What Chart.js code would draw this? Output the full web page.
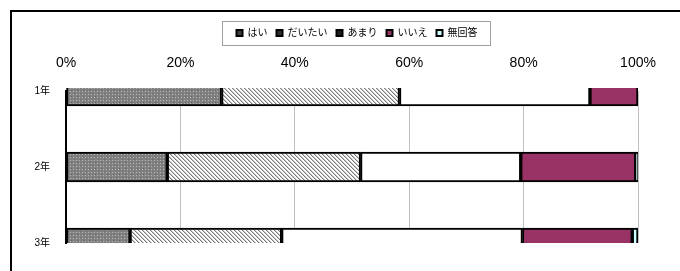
<!DOCTYPE html>
<html>
<head>
<meta charset="utf-8">
<script src="https://cdn.jsdelivr.net/npm/chart.js@4"></script>
<style>
  html, body { margin: 0; padding: 0; background: #fff; overflow: hidden; }
  #wrap { width: 680px; height: 271px; position: relative; }
</style>
</head>
<body>
<div id="wrap"><canvas id="surveyChart" width="680" height="271"></canvas></div>
<script>
// categories and answers (percent of students)
const grades = ['1年', '2年', '3年'];
const answerLabels = ['はい', 'だいたい', 'あまり', 'いいえ', '無回答'];
const hai      = [27.2, 17.7, 11.2];
const daitai   = [31.1, 33.8, 26.5];
const amari    = [33.3, 28.0, 42.1];
const iie      = [8.4, 20.1, 19.2];
const mukaitou = [0, 0.4, 1.0];
const xTicks = [0, 20, 40, 60, 80, 100];

const FONT = "'Liberation Sans', 'Noto Sans CJK JP', sans-serif";
const PAD_TOP = 19;
const PLOT_TOP = 91;     // where the first category sits

// little fill patterns like the old spreadsheet ones
function makePattern(size, draw) {
    const c = document.createElement('canvas');
    c.width = size; c.height = size;
    const g = c.getContext('2d');
    draw(g);
    return document.getElementById('surveyChart').getContext('2d').createPattern(c, 'repeat');
}

const dotPattern = makePattern(6, g => {
    g.fillStyle = '#808080';
    g.fillRect(0, 0, 6, 6);
    g.fillStyle = '#b8b8b8';
    g.fillRect(1, 1, 1, 1);
    g.fillRect(4, 4, 1, 1);
    g.fillRect(4, 1, 1, 1);
    g.fillRect(1, 4, 1, 1);
    g.fillStyle = '#666666';
    g.fillRect(2, 3, 1, 1);
    g.fillRect(5, 0, 1, 1);
});

const hatchPattern = makePattern(4, g => {
    g.fillStyle = '#ffffff';
    g.fillRect(0, 0, 4, 4);
    g.fillStyle = '#7a7a7a';
    for (let i = 0; i < 4; i++) g.fillRect(i, i, 1, 1);
    g.fillStyle = '#c8c8c8';
    for (let i = 0; i < 4; i++) g.fillRect((i + 1) % 4, i, 1, 1);
});

const fills = [dotPattern, hatchPattern, '#ffffff', '#993366', '#ccffff'];
const series = [hai, daitai, amari, iie, mukaitou];

// legend sits a bit right of centre in the original
const LEGEND_SHIFT = 28;

// outer frame plus the box round the legend
const framePlugin = {
    id: 'framePlugin',
    afterUpdate(chart) {
        const lg = chart.legend;
        lg.left += LEGEND_SHIFT;
        lg.right += LEGEND_SHIFT;
        (lg.legendHitBoxes || []).forEach(h => { h.left += LEGEND_SHIFT; });
    },
    afterDraw(chart) {
        const ctx = chart.ctx;
        ctx.save();
        ctx.strokeStyle = '#000';
        ctx.lineWidth = 2;
        ctx.strokeRect(11, 11, 720, 320);
        const boxes = chart.legend.legendHitBoxes;
        if (boxes && boxes.length) {
            let l = Infinity, r = -Infinity, t = Infinity, b = -Infinity;
            boxes.forEach(h => {
                l = Math.min(l, h.left); r = Math.max(r, h.left + h.width);
                t = Math.min(t, h.top); b = Math.max(b, h.top + h.height);
            });
            ctx.strokeStyle = '#a0a0a0';
            ctx.lineWidth = 1;
            ctx.strokeRect(Math.round(l - 15) + 0.5, Math.round(t - 7) + 0.5,
                Math.round(r - l + 27), Math.round(b - t + 14));
        }
        ctx.restore();
    }
};

const ctx = document.getElementById('surveyChart').getContext('2d');

const chart = new Chart(ctx, {
    type: 'bar',
    data: {
        labels: grades,
        datasets: answerLabels.map((name, i) => ({
            label: name,
            data: series[i],
            backgroundColor: fills[i],
            borderColor: '#000',
            borderWidth: 2,
            borderSkipped: false,
            barThickness: 30,
            clip: { left: 0, right: 0, top: 3, bottom: 0 },
        })),
    },
    options: {
        indexAxis: 'y',
        responsive: false,
        animation: false,
        layout: { padding: { left: 20, right: 42, top: PAD_TOP, bottom: 28 } },
        plugins: {
            tooltip: { enabled: false },
            legend: {
                position: 'top',
                labels: {
                    boxWidth: 6,
                    boxHeight: 6,
                    padding: 9,
                    color: '#000',
                    font: { family: FONT, size: 10 },
                    generateLabels(chart) {
                        return chart.data.datasets.map((ds, i) => ({
                            text: ds.label,
                            fillStyle: ['#404040', '#303030', '#202020', '#993366', '#ccffff'][i],
                            strokeStyle: '#000',
                            lineWidth: 2,
                            datasetIndex: i,
                        }));
                    },
                },
            },
        },
        scales: {
            x: {
                position: 'top',
                stacked: true,
                min: 0,
                max: 100,
                afterBuildTicks(scale) {
                    scale.ticks = xTicks.map(v => ({ value: v }));
                },
                afterFit(scale) {
                    const lh = scale.chart.legend ? scale.chart.legend.height : 0;
                    scale.height = PLOT_TOP - PAD_TOP - lh;
                },
                ticks: {
                    callback: v => v + '%',
                    color: '#000',
                    padding: 19,
                    font: { family: FONT, size: 14 },
                    maxRotation: 0,
                },
                grid: { color: '#c0c0c0', drawTicks: false },
                border: { display: false },
            },
            y: {
                stacked: true,
                offset: false,
                ticks: {
                    color: '#000',
                    padding: 16,
                    font: { family: FONT, size: 10 },
                },
                grid: { display: false, drawTicks: false },
                border: { display: true, color: '#000', width: 2 },
                afterFit(scale) { scale.width = 46; },
            },
        },
    },
    plugins: [framePlugin],
});
</script>
</body>
</html>
